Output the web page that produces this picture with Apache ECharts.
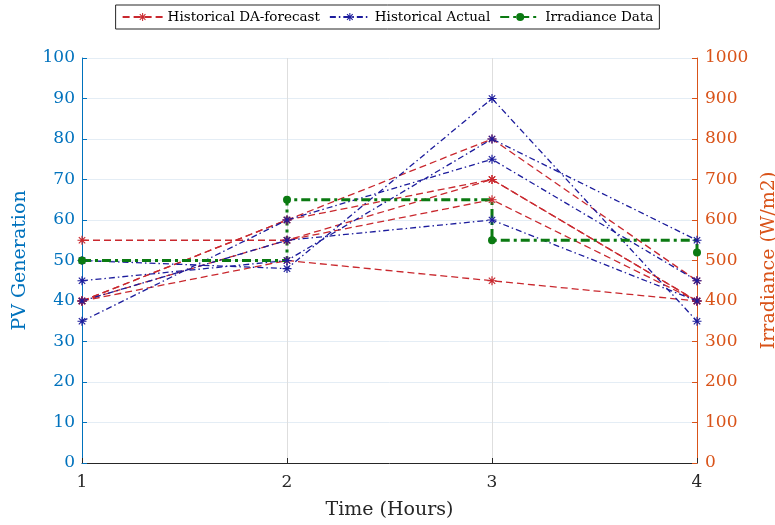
<!DOCTYPE html>
<html>
<head>
<meta charset="utf-8">
<script src="https://cdn.jsdelivr.net/npm/echarts@6/dist/echarts.min.js"></script>
<style>
  html, body { margin: 0; padding: 0; background: #fff; }
  #chart { width: 775px; height: 525px; }
</style>
</head>
<body>
<div id="chart"></div>
<script>
// time axis
var hours = [1, 2, 3, 4];

// historical day-ahead forecasts (PV generation)
var forecast1 = [55, 55, 65, 40];
var forecast2 = [40, 60, 80, 45];
var forecast3 = [40, 55, 70, 40];
var forecast4 = [40, 50, 45, 40];
var forecast5 = [40, 60, 70, 40];

// historical actual PV generation
var actual1 = [50, 48, 90, 35];
var actual2 = [45, 50, 80, 55];
var actual3 = [40, 55, 60, 40];
var actual4 = [35, 60, 75, 45];

// irradiance (W/m2), drawn as stairs
var irradiance = [500, 650, 550, 520];

var FONT = 'DejaVu Serif';
var RED = '#C9282E';
var BLUE = '#1C1C9C';
var GREEN = '#0B7A12';
var LEFT_C = '#0072BD';
var RIGHT_C = '#D95319';

// asterisk marker
var star = 'path://M-1,-0.13L1,-0.13L1,0.13L-1,0.13Z' +
  'M-0.13,-1L0.13,-1L0.13,1L-0.13,1Z' +
  'M-0.8,-0.62L-0.62,-0.8L0.8,0.62L0.62,0.8Z' +
  'M0.62,-0.8L0.8,-0.62L-0.62,0.8L-0.8,0.62Z';

function pairs(vals) {
  return hours.map(function (h, i) { return [h, vals[i]]; });
}

var series = [];
[forecast1, forecast2, forecast3, forecast4, forecast5].forEach(function (f) {
  series.push({
    name: 'Historical DA-forecast', type: 'line', data: pairs(f),
    symbol: star, symbolSize: 9, showSymbol: true,
    itemStyle: { color: RED },
    lineStyle: { color: RED, width: 1.3, type: [7, 4] }
  });
});
[actual1, actual2, actual3, actual4].forEach(function (a) {
  series.push({
    name: 'Historical Actual', type: 'line', data: pairs(a),
    symbol: star, symbolSize: 9, showSymbol: true,
    itemStyle: { color: BLUE },
    lineStyle: { color: BLUE, width: 1.3, type: [6, 3, 1.5, 3] }
  });
});
series.push({
  name: 'Irradiance Data', type: 'line', yAxisIndex: 1, step: 'end',
  data: pairs(irradiance),
  symbol: 'circle', symbolSize: 8, showSymbol: true,
  itemStyle: { color: GREEN },
  lineStyle: { color: GREEN, width: 3, type: [9, 4, 3, 4] },
  z: 3
});

var chart = echarts.init(document.getElementById('chart'), null, { renderer: 'canvas' });
chart.setOption({
  animation: false,
  backgroundColor: '#fff',
  textStyle: { fontFamily: FONT },
  legend: {
    top: 5, left: 'center',
    itemWidth: 40, itemHeight: 10, itemGap: 9,
    borderColor: '#262626', borderWidth: 1, padding: [5, 6, 5, 6],
    textStyle: { fontFamily: FONT, fontSize: 13.5, color: '#000' },
    data: ['Historical DA-forecast', 'Historical Actual', 'Irradiance Data']
  },
  grid: { left: 82, right: 78, top: 58, bottom: 62, containLabel: false, outerBoundsMode: 'none' },
  xAxis: {
    type: 'value', min: 1, max: 4, interval: 1,
    name: 'Time (Hours)', nameLocation: 'middle', nameGap: 38,
    nameTextStyle: { fontFamily: FONT, fontSize: 19, color: '#262626' },
    axisLine: { show: true, lineStyle: { color: '#262626', width: 1 } },
    axisTick: { show: true, inside: true, length: 5, lineStyle: { color: '#262626' } },
    axisLabel: { fontFamily: FONT, fontSize: 17, color: '#262626', margin: 11 },
    splitLine: { show: true, lineStyle: { color: '#DEDEDE', width: 1 } }
  },
  yAxis: [{
    type: 'value', min: 0, max: 100, interval: 10, position: 'left',
    name: 'PV Generation', nameLocation: 'middle', nameGap: 52, nameRotate: 90,
    nameTextStyle: { fontFamily: FONT, fontSize: 19, color: LEFT_C },
    axisLine: { show: true, lineStyle: { color: LEFT_C, width: 1 } },
    axisTick: { show: true, inside: true, length: 5, lineStyle: { color: LEFT_C } },
    axisLabel: { fontFamily: FONT, fontSize: 17, color: LEFT_C, margin: 7 },
    splitLine: { show: true, lineStyle: { color: '#E4EDF5', width: 1 } }
  }, {
    type: 'value', min: 0, max: 1000, interval: 100, position: 'right',
    name: 'Irradiance (W/m2)', nameLocation: 'middle', nameGap: 49, nameRotate: 90,
    nameTextStyle: { fontFamily: FONT, fontSize: 19, color: RIGHT_C },
    axisLine: { show: true, lineStyle: { color: RIGHT_C, width: 1 } },
    axisTick: { show: true, inside: true, length: 5, lineStyle: { color: RIGHT_C } },
    axisLabel: { fontFamily: FONT, fontSize: 17, color: RIGHT_C, margin: 8,
      formatter: function (v) { return String(v); } },
    splitLine: { show: false }
  }],
  series: series
});
</script>
</body>
</html>
